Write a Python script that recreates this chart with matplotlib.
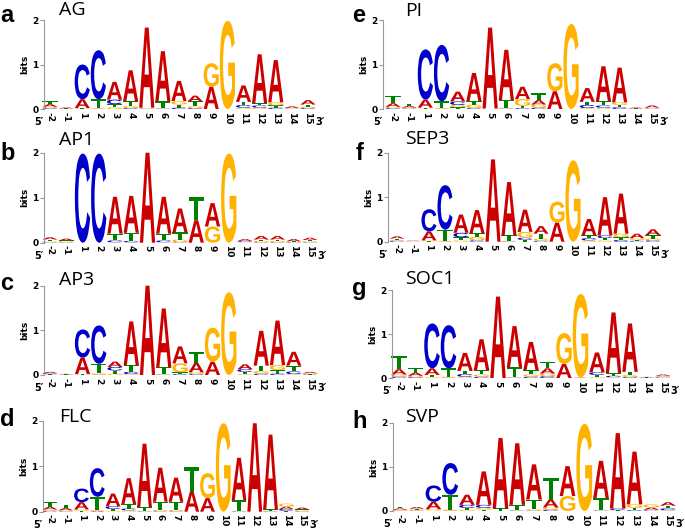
import matplotlib
matplotlib.use("Agg")
import matplotlib.pyplot as plt
from matplotlib.textpath import TextPath
from matplotlib.patches import PathPatch
from matplotlib.font_manager import FontProperties
from matplotlib.transforms import Affine2D

# posities in het motief (5' -> 3')
positions = ['-2', '-1', '1', '2', '3', '4', '5', '6', '7', '8', '9', '10', '11', '12', '13', '14', '15']

# informatie-inhoud (bits) per base, per positie
AG = {
    'A': [0.06, 0.02, 0.20, 0.01, 0.40, 0.70, 1.80, 1.13, 0.45, 0.13, 0.50, 0.00, 0.37, 1.10, 0.95, 0.04, 0.10],
    'C': [0.02, 0.005, 0.78, 1.10, 0.10, 0.02, 0.01, 0.01, 0.03, 0.02, 0.00, 0.00, 0.06, 0.05, 0.03, 0.005, 0.02],
    'G': [0.03, 0.005, 0.01, 0.01, 0.04, 0.05, 0.01, 0.01, 0.08, 0.04, 0.53, 1.98, 0.03, 0.03, 0.07, 0.01, 0.03],
    'T': [0.06, 0.005, 0.01, 0.20, 0.07, 0.10, 0.01, 0.15, 0.07, 0.11, 0.00, 0.00, 0.07, 0.05, 0.05, 0.005, 0.05],
}
AP1 = {
    'A': [0.05, 0.04, 0.00, 0.00, 0.82, 0.82, 2.00, 0.82, 0.53, 0.50, 0.52, 0.00, 0.04, 0.08, 0.08, 0.05, 0.05],
    'C': [0.01, 0.01, 1.98, 1.98, 0.04, 0.03, 0.00, 0.04, 0.01, 0.00, 0.00, 0.00, 0.02, 0.01, 0.01, 0.01, 0.01],
    'G': [0.02, 0.02, 0.00, 0.00, 0.01, 0.01, 0.00, 0.01, 0.06, 0.00, 0.36, 1.98, 0.01, 0.03, 0.03, 0.01, 0.02],
    'T': [0.04, 0.02, 0.00, 0.00, 0.15, 0.18, 0.00, 0.15, 0.16, 0.52, 0.00, 0.00, 0.01, 0.03, 0.03, 0.01, 0.03],
}
AP3 = {
    'A': [0.03, 0.01, 0.37, 0.01, 0.12, 0.98, 2.00, 1.32, 0.38, 0.21, 0.30, 0.00, 0.11, 0.78, 1.00, 0.31, 0.03],
    'C': [0.02, 0.005, 0.63, 0.86, 0.08, 0.05, 0.00, 0.01, 0.02, 0.02, 0.00, 0.00, 0.06, 0.03, 0.03, 0.06, 0.01],
    'G': [0.01, 0.005, 0.01, 0.03, 0.03, 0.02, 0.00, 0.01, 0.20, 0.04, 0.76, 1.85, 0.02, 0.06, 0.11, 0.02, 0.02],
    'T': [0.01, 0.005, 0.01, 0.21, 0.07, 0.15, 0.00, 0.15, 0.04, 0.25, 0.00, 0.00, 0.05, 0.12, 0.08, 0.13, 0.01],
}
FLC = {
    'A': [0.06, 0.05, 0.16, 0.02, 0.28, 0.57, 1.40, 0.75, 0.53, 0.44, 0.30, 0.00, 0.94, 1.95, 1.65, 0.05, 0.04],
    'C': [0.02, 0.01, 0.30, 0.63, 0.06, 0.04, 0.01, 0.01, 0.01, 0.00, 0.00, 0.00, 0.01, 0.00, 0.01, 0.04, 0.01],
    'G': [0.03, 0.02, 0.03, 0.02, 0.02, 0.03, 0.01, 0.03, 0.03, 0.00, 0.55, 1.95, 0.01, 0.00, 0.01, 0.07, 0.02],
    'T': [0.10, 0.07, 0.02, 0.29, 0.04, 0.10, 0.08, 0.18, 0.18, 0.55, 0.00, 0.00, 0.23, 0.00, 0.03, 0.02, 0.02],
}
PI = {
    'A': [0.08, 0.04, 0.18, 0.01, 0.22, 0.63, 1.82, 1.13, 0.28, 0.10, 0.40, 0.00, 0.31, 0.78, 0.78, 0.02, 0.05],
    'C': [0.02, 0.01, 1.13, 1.27, 0.08, 0.02, 0.00, 0.01, 0.02, 0.03, 0.00, 0.00, 0.07, 0.05, 0.04, 0.005, 0.01],
    'G': [0.03, 0.02, 0.01, 0.01, 0.05, 0.08, 0.00, 0.02, 0.15, 0.07, 0.63, 1.91, 0.02, 0.03, 0.06, 0.005, 0.01],
    'T': [0.16, 0.04, 0.02, 0.15, 0.04, 0.08, 0.01, 0.17, 0.05, 0.15, 0.00, 0.00, 0.07, 0.10, 0.05, 0.005, 0.01],
}
SEP3 = {
    'A': [0.05, 0.01, 0.20, 0.01, 0.41, 0.52, 1.85, 1.20, 0.50, 0.17, 0.43, 0.00, 0.37, 0.86, 0.90, 0.10, 0.13],
    'C': [0.02, 0.005, 0.50, 1.00, 0.10, 0.03, 0.00, 0.01, 0.05, 0.02, 0.00, 0.00, 0.05, 0.06, 0.04, 0.02, 0.03],
    'G': [0.02, 0.005, 0.02, 0.01, 0.03, 0.08, 0.00, 0.01, 0.13, 0.05, 0.47, 1.83, 0.03, 0.03, 0.08, 0.04, 0.04],
    'T': [0.03, 0.005, 0.01, 0.25, 0.07, 0.08, 0.00, 0.12, 0.04, 0.11, 0.00, 0.00, 0.06, 0.05, 0.06, 0.02, 0.08],
}
SOC1 = {
    'A': [0.12, 0.07, 0.15, 0.01, 0.41, 0.70, 1.85, 0.94, 0.64, 0.12, 0.32, 0.01, 0.45, 1.38, 1.10, 0.01, 0.03],
    'C': [0.03, 0.02, 1.02, 0.98, 0.06, 0.03, 0.00, 0.01, 0.03, 0.04, 0.00, 0.00, 0.06, 0.03, 0.02, 0.005, 0.02],
    'G': [0.05, 0.03, 0.02, 0.02, 0.03, 0.05, 0.00, 0.01, 0.05, 0.06, 0.70, 1.90, 0.02, 0.02, 0.05, 0.005, 0.02],
    'T': [0.30, 0.10, 0.05, 0.19, 0.07, 0.10, 0.00, 0.22, 0.10, 0.15, 0.00, 0.00, 0.05, 0.06, 0.07, 0.005, 0.01],
}
SVP = {
    'A': [0.03, 0.04, 0.17, 0.01, 0.23, 0.76, 1.60, 1.40, 0.80, 0.18, 0.68, 0.00, 0.85, 1.71, 1.20, 0.05, 0.08],
    'C': [0.01, 0.01, 0.37, 0.72, 0.07, 0.07, 0.00, 0.01, 0.01, 0.03, 0.00, 0.00, 0.01, 0.04, 0.02, 0.02, 0.04],
    'G': [0.02, 0.02, 0.03, 0.02, 0.03, 0.04, 0.00, 0.01, 0.03, 0.05, 0.34, 1.98, 0.01, 0.01, 0.08, 0.07, 0.02],
    'T': [0.04, 0.02, 0.01, 0.34, 0.04, 0.03, 0.06, 0.12, 0.22, 0.50, 0.00, 0.00, 0.27, 0.01, 0.05, 0.01, 0.06],
}

motifs = [AG, AP1, AP3, FLC, PI, SEP3, SOC1, SVP]
names = ['AG', 'AP1', 'AP3', 'FLC', 'PI', 'SEP3', 'SOC1', 'SVP']
panel_letters = ['a', 'b', 'c', 'd', 'e', 'f', 'g', 'h']

base_colors = {'A': '#cc0000', 'C': '#0000cc', 'G': '#ffb300', 'T': '#008000'}

# layout in pixels: (y-as x, x van pos -2, x van pos 15, y van 0 bits, y van 2 bits)
W, H = 685, 530
layout = [
    (44, 50, 308, 109, 20),
    (44, 50, 310, 242.7, 152.7),
    (44, 50, 310, 375, 285.7),
    (43, 50, 302, 511.7, 421),
    (383, 393, 652, 109, 20),
    (388, 397, 653, 241.7, 152.7),
    (392, 399, 663, 378, 290),
    (393, 400, 668, 511, 423),
]
# titel (x links, y midden) en paneel-letter (x links, y midden), pixels
title_pos = [(59, 10), (59, 140), (59, 280), (59, 417), (405, 11), (405, 139), (405, 279), (405, 417)]
letter_pos = [(0, 16), (0, 153), (0, 284), (0, 420), (352, 16), (356, 153), (352, 288), (352, 421)]

letter_font = FontProperties(family='Liberation Sans', weight='bold')


def draw_letter(ax, ch, x, y, w, h):
    path = TextPath((0, 0), ch, size=1, prop=letter_font)
    bb = path.get_extents()
    t = Affine2D().translate(-bb.x0, -bb.y0).scale(w / bb.width, h / bb.height).translate(x - w / 2, y)
    patch = PathPatch(t.transform_path(path), facecolor=base_colors[ch], edgecolor='none', lw=0, clip_on=False)
    ax.add_patch(patch)


fig = plt.figure(figsize=(W / 100, H / 100), dpi=100)

for k, motif in enumerate(motifs):
    axis_x, p0, p16, y0, y2 = layout[k]
    u = (p16 - p0) / 16
    right = p16 + 0.55 * u
    ax = fig.add_axes([axis_x / W, 1 - y0 / H, (right - axis_x) / W, (y0 - y2) / H])
    ax.set_xlim(-(p0 - axis_x) / u, 16.55)
    ax.set_ylim(0, 2)

    # letters per positie: kleinste onderaan, grootste bovenaan
    for i in range(len(positions)):
        stack = sorted([(motif[b][i], b) for b in 'ACGT'])
        bottom = 0
        for h, b in stack:
            if h > 0.003:
                draw_letter(ax, b, i, bottom, 0.94, h)
            bottom += h

    for s in ['top', 'right', 'bottom']:
        ax.spines[s].set_visible(False)
    ax.spines['left'].set_color('#999999')
    ax.spines['left'].set_linewidth(0.8)
    ax.spines['left'].set_bounds(0, 2)
    ax.set_yticks([0, 1, 2])
    ax.set_yticklabels(['0', '1', '2'], fontsize=6.5, fontweight='bold')
    ax.tick_params(axis='y', length=3, width=0.8, color='#999999', pad=1)
    ax.set_xticks(range(len(positions)))
    ax.set_xticklabels(positions, rotation=270, fontsize=6.5, fontweight='bold')
    ax.tick_params(axis='x', length=0, pad=2)
    ax.set_ylabel('bits', fontsize=6.5, fontweight='bold', labelpad=2)
    ax.patch.set_visible(False)

    ax.text(ax.get_xlim()[0] - 0.3, -0.3, '5\u2032', fontsize=7, fontweight='bold', ha='center', va='center', clip_on=False)
    ax.text(16.75, -0.3, '3\u2032', fontsize=7, fontweight='bold', ha='center', va='center', clip_on=False)

    tx, ty = title_pos[k]
    fig.text(tx / W, 1 - ty / H, names[k], fontsize=14, family='Open Sans', ha='left', va='center')
    lx, ly = letter_pos[k]
    fig.text(lx / W, 1 - ly / H, panel_letters[k], fontsize=17, fontweight='bold', family='Liberation Sans', ha='left', va='center')

fig.savefig('out.png', dpi=100)
